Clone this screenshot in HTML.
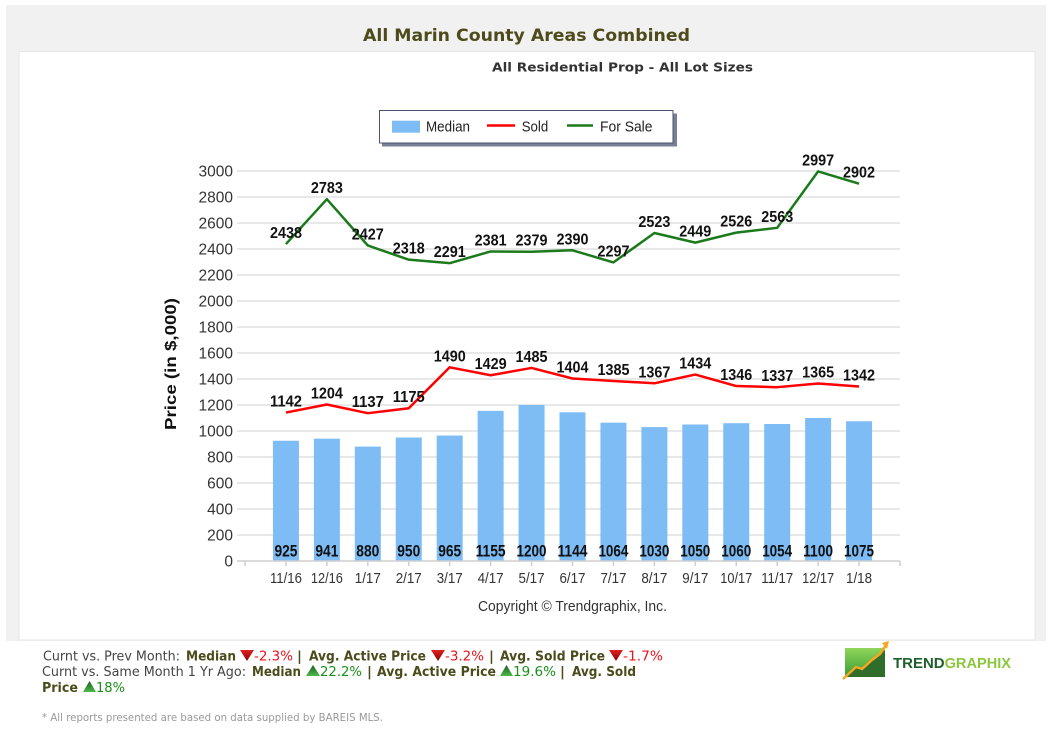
<!DOCTYPE html>
<html>
<head>
<meta charset="utf-8">
<style>
html,body{margin:0;padding:0;background:#fff;}
svg{display:block;}
.tk{font-family:"Liberation Sans",Arial,sans-serif;font-size:15.5px;fill:#333;}
.xl{font-family:"Liberation Sans",Arial,sans-serif;font-size:14.5px;fill:#333;}
.lb{font-family:"Liberation Sans",Arial,sans-serif;font-size:16px;font-weight:bold;fill:#111;}
.bl{font-family:"Liberation Sans",Arial,sans-serif;font-size:16.5px;font-weight:bold;fill:#111;}
.lg{font-family:"Liberation Sans",Arial,sans-serif;font-size:15px;fill:#222;}
.v{font-family:"DejaVu Sans",Verdana,sans-serif;font-size:13.5px;}
.n{fill:#444;}
.b{fill:#4b4b1c;font-weight:bold;}
.r{fill:#e8141b;}
.g{fill:#1a8f1a;}
</style>
</head>
<body>
<svg width="1052" height="749" viewBox="0 0 1052 749" xmlns="http://www.w3.org/2000/svg">
<defs>
<linearGradient id="lg1" x1="0" y1="0" x2="0" y2="1">
<stop offset="0" stop-color="#8fd65a"/>
<stop offset="1" stop-color="#3a9a34"/>
</linearGradient>
<linearGradient id="dn" x1="0" y1="0" x2="0" y2="1">
<stop offset="0" stop-color="#e02020"/>
<stop offset="1" stop-color="#8a0000"/>
</linearGradient>
<linearGradient id="up" x1="0" y1="0" x2="0" y2="1">
<stop offset="0" stop-color="#1b5e1b"/>
<stop offset="1" stop-color="#4cb84c"/>
</linearGradient>
</defs>

<!-- background frame -->
<rect x="6" y="5" width="1040" height="636" fill="#f1f1f1"/>
<rect x="19" y="51.5" width="1016" height="588.5" fill="#ffffff" stroke="#e6e6e6" stroke-width="1"/>

<!-- title -->
<text x="363" y="41" font-family="'DejaVu Sans',Verdana,sans-serif" font-size="17" font-weight="bold" fill="#4d4b1b" textLength="327" lengthAdjust="spacingAndGlyphs">All Marin County Areas Combined</text>
<text x="492" y="71.5" font-family="'DejaVu Sans',Verdana,sans-serif" font-size="12.5" font-weight="bold" fill="#333" textLength="261" lengthAdjust="spacingAndGlyphs">All Residential Prop - All Lot Sizes</text>

<!-- legend -->
<rect x="382" y="113.5" width="295" height="33" fill="#4a5670" opacity="0.75"/>
<rect x="379.5" y="110.5" width="293.5" height="32.5" fill="#fff" stroke="#4a5670" stroke-width="1"/>
<rect x="392" y="120.7" width="28" height="12" fill="#7dbcf5"/>
<text x="426" y="131.7" class="lg" textLength="44" lengthAdjust="spacingAndGlyphs">Median</text>
<line x1="487" y1="125.5" x2="515" y2="125.5" stroke="#ff0000" stroke-width="2.5"/>
<text x="521.7" y="131.7" class="lg" textLength="26.5" lengthAdjust="spacingAndGlyphs">Sold</text>
<line x1="567" y1="125.5" x2="593" y2="125.5" stroke="#1b7a1b" stroke-width="2.5"/>
<text x="600" y="131.7" class="lg" textLength="52.5" lengthAdjust="spacingAndGlyphs">For Sale</text>

<!-- gridlines -->
<g stroke="#d9d9d9" stroke-width="1.3">
<line x1="237" y1="535" x2="900" y2="535"/>
<line x1="237" y1="509" x2="900" y2="509"/>
<line x1="237" y1="483" x2="900" y2="483"/>
<line x1="237" y1="457" x2="900" y2="457"/>
<line x1="237" y1="431" x2="900" y2="431"/>
<line x1="237" y1="405" x2="900" y2="405"/>
<line x1="237" y1="379" x2="900" y2="379"/>
<line x1="237" y1="353" x2="900" y2="353"/>
<line x1="237" y1="327" x2="900" y2="327"/>
<line x1="237" y1="301" x2="900" y2="301"/>
<line x1="237" y1="275" x2="900" y2="275"/>
<line x1="237" y1="249" x2="900" y2="249"/>
<line x1="237" y1="223" x2="900" y2="223"/>
<line x1="237" y1="197" x2="900" y2="197"/>
<line x1="237" y1="171" x2="900" y2="171"/>
</g>

<!-- y tick labels -->
<g class="tk" text-anchor="end">
<text x="233" y="566.5">0</text>
<text x="233" y="540.5">200</text>
<text x="233" y="514.5">400</text>
<text x="233" y="488.5">600</text>
<text x="233" y="462.5">800</text>
<text x="233" y="436.5">1000</text>
<text x="233" y="410.5">1200</text>
<text x="233" y="384.5">1400</text>
<text x="233" y="358.5">1600</text>
<text x="233" y="332.5">1800</text>
<text x="233" y="306.5">2000</text>
<text x="233" y="280.5">2200</text>
<text x="233" y="254.5">2400</text>
<text x="233" y="228.5">2600</text>
<text x="233" y="202.5">2800</text>
<text x="233" y="176.5">3000</text>
</g>

<!-- axis title -->
<text transform="translate(176,364) rotate(-90)" text-anchor="middle" font-family="'Liberation Sans',Arial,sans-serif" font-size="16" font-weight="bold" fill="#111" textLength="132" lengthAdjust="spacingAndGlyphs">Price (in $,000)</text>

<!-- bars -->
<g fill="#7dbcf5">
<rect x="272.94" y="440.75" width="26" height="120.25"/>
<rect x="313.88" y="438.67" width="26" height="122.33"/>
<rect x="354.81" y="446.6" width="26" height="114.4"/>
<rect x="395.75" y="437.5" width="26" height="123.5"/>
<rect x="436.69" y="435.55" width="26" height="125.45"/>
<rect x="477.63" y="410.85" width="26" height="150.15"/>
<rect x="518.56" y="405" width="26" height="156"/>
<rect x="559.5" y="412.28" width="26" height="148.72"/>
<rect x="600.44" y="422.68" width="26" height="138.32"/>
<rect x="641.38" y="427.1" width="26" height="133.9"/>
<rect x="682.31" y="424.5" width="26" height="136.5"/>
<rect x="723.25" y="423.2" width="26" height="137.8"/>
<rect x="764.19" y="423.98" width="26" height="137.02"/>
<rect x="805.13" y="418" width="26" height="143"/>
<rect x="846.06" y="421.25" width="26" height="139.75"/>
</g>

<!-- x axis -->
<g stroke="#cfcfcf" stroke-width="1.5">
<line x1="237" y1="561" x2="900" y2="561"/>
<line x1="245" y1="561" x2="245" y2="566"/>
<line x1="285.94" y1="561" x2="285.94" y2="566"/>
<line x1="326.88" y1="561" x2="326.88" y2="566"/>
<line x1="367.81" y1="561" x2="367.81" y2="566"/>
<line x1="408.75" y1="561" x2="408.75" y2="566"/>
<line x1="449.69" y1="561" x2="449.69" y2="566"/>
<line x1="490.63" y1="561" x2="490.63" y2="566"/>
<line x1="531.56" y1="561" x2="531.56" y2="566"/>
<line x1="572.5" y1="561" x2="572.5" y2="566"/>
<line x1="613.44" y1="561" x2="613.44" y2="566"/>
<line x1="654.38" y1="561" x2="654.38" y2="566"/>
<line x1="695.31" y1="561" x2="695.31" y2="566"/>
<line x1="736.25" y1="561" x2="736.25" y2="566"/>
<line x1="777.19" y1="561" x2="777.19" y2="566"/>
<line x1="818.13" y1="561" x2="818.13" y2="566"/>
<line x1="859.06" y1="561" x2="859.06" y2="566"/>
<line x1="900" y1="561" x2="900" y2="566"/>
</g>

<!-- bar labels -->
<g class="bl" text-anchor="middle">
<text x="285.94" y="556.5" textLength="23" lengthAdjust="spacingAndGlyphs">925</text>
<text x="326.88" y="556.5" textLength="23" lengthAdjust="spacingAndGlyphs">941</text>
<text x="367.81" y="556.5" textLength="23" lengthAdjust="spacingAndGlyphs">880</text>
<text x="408.75" y="556.5" textLength="23" lengthAdjust="spacingAndGlyphs">950</text>
<text x="449.69" y="556.5" textLength="23" lengthAdjust="spacingAndGlyphs">965</text>
<text x="490.63" y="556.5" textLength="30" lengthAdjust="spacingAndGlyphs">1155</text>
<text x="531.56" y="556.5" textLength="30" lengthAdjust="spacingAndGlyphs">1200</text>
<text x="572.5" y="556.5" textLength="30" lengthAdjust="spacingAndGlyphs">1144</text>
<text x="613.44" y="556.5" textLength="30" lengthAdjust="spacingAndGlyphs">1064</text>
<text x="654.38" y="556.5" textLength="30" lengthAdjust="spacingAndGlyphs">1030</text>
<text x="695.31" y="556.5" textLength="30" lengthAdjust="spacingAndGlyphs">1050</text>
<text x="736.25" y="556.5" textLength="30" lengthAdjust="spacingAndGlyphs">1060</text>
<text x="777.19" y="556.5" textLength="30" lengthAdjust="spacingAndGlyphs">1054</text>
<text x="818.13" y="556.5" textLength="30" lengthAdjust="spacingAndGlyphs">1100</text>
<text x="859.06" y="556.5" textLength="30" lengthAdjust="spacingAndGlyphs">1075</text>
</g>

<!-- lines -->
<polyline fill="none" stroke="#ff0000" stroke-width="2.5" stroke-linejoin="round" points="285.94,412.54 326.88,404.48 367.81,413.19 408.75,408.25 449.69,367.3 490.63,375.23 531.56,367.95 572.5,378.48 613.44,380.95 654.38,383.29 695.31,374.58 736.25,386.02 777.19,387.19 818.13,383.55 859.06,386.54"/>
<polyline fill="none" stroke="#1b7a1b" stroke-width="2.5" stroke-linejoin="round" points="285.94,244.06 326.88,199.21 367.81,245.49 408.75,259.66 449.69,263.17 490.63,251.47 531.56,251.73 572.5,250.3 613.44,262.39 654.38,233.01 695.31,242.63 736.25,232.62 777.19,227.81 818.13,171.39 859.06,183.74"/>

<!-- sold labels -->
<g class="lb" text-anchor="middle">
<text x="285.94" y="406.5" textLength="32" lengthAdjust="spacingAndGlyphs">1142</text>
<text x="326.88" y="398.5" textLength="32" lengthAdjust="spacingAndGlyphs">1204</text>
<text x="367.81" y="407.2" textLength="32" lengthAdjust="spacingAndGlyphs">1137</text>
<text x="408.75" y="402.2" textLength="32" lengthAdjust="spacingAndGlyphs">1175</text>
<text x="449.69" y="361.3" textLength="32" lengthAdjust="spacingAndGlyphs">1490</text>
<text x="490.63" y="369.2" textLength="32" lengthAdjust="spacingAndGlyphs">1429</text>
<text x="531.56" y="362" textLength="32" lengthAdjust="spacingAndGlyphs">1485</text>
<text x="572.5" y="372.5" textLength="32" lengthAdjust="spacingAndGlyphs">1404</text>
<text x="613.44" y="375" textLength="32" lengthAdjust="spacingAndGlyphs">1385</text>
<text x="654.38" y="377.3" textLength="32" lengthAdjust="spacingAndGlyphs">1367</text>
<text x="695.31" y="368.6" textLength="32" lengthAdjust="spacingAndGlyphs">1434</text>
<text x="736.25" y="380" textLength="32" lengthAdjust="spacingAndGlyphs">1346</text>
<text x="777.19" y="381.2" textLength="32" lengthAdjust="spacingAndGlyphs">1337</text>
<text x="818.13" y="377.5" textLength="32" lengthAdjust="spacingAndGlyphs">1365</text>
<text x="859.06" y="380.5" textLength="32" lengthAdjust="spacingAndGlyphs">1342</text>
</g>

<!-- for sale labels -->
<g class="lb" text-anchor="middle">
<text x="285.94" y="238" textLength="32" lengthAdjust="spacingAndGlyphs">2438</text>
<text x="326.88" y="193.2" textLength="32" lengthAdjust="spacingAndGlyphs">2783</text>
<text x="367.81" y="239.5" textLength="32" lengthAdjust="spacingAndGlyphs">2427</text>
<text x="408.75" y="253.7" textLength="32" lengthAdjust="spacingAndGlyphs">2318</text>
<text x="449.69" y="257.2" textLength="32" lengthAdjust="spacingAndGlyphs">2291</text>
<text x="490.63" y="245.5" textLength="32" lengthAdjust="spacingAndGlyphs">2381</text>
<text x="531.56" y="245.7" textLength="32" lengthAdjust="spacingAndGlyphs">2379</text>
<text x="572.5" y="244.3" textLength="32" lengthAdjust="spacingAndGlyphs">2390</text>
<text x="613.44" y="256.4" textLength="32" lengthAdjust="spacingAndGlyphs">2297</text>
<text x="654.38" y="227" textLength="32" lengthAdjust="spacingAndGlyphs">2523</text>
<text x="695.31" y="236.6" textLength="32" lengthAdjust="spacingAndGlyphs">2449</text>
<text x="736.25" y="226.6" textLength="32" lengthAdjust="spacingAndGlyphs">2526</text>
<text x="777.19" y="221.8" textLength="32" lengthAdjust="spacingAndGlyphs">2563</text>
<text x="818.13" y="165.4" textLength="32" lengthAdjust="spacingAndGlyphs">2997</text>
<text x="859.06" y="177.7" textLength="32" lengthAdjust="spacingAndGlyphs">2902</text>
</g>

<!-- x labels -->
<g class="xl" text-anchor="middle">
<text x="285.94" y="583" textLength="32" lengthAdjust="spacingAndGlyphs">11/16</text>
<text x="326.88" y="583" textLength="32" lengthAdjust="spacingAndGlyphs">12/16</text>
<text x="367.81" y="583" textLength="26" lengthAdjust="spacingAndGlyphs">1/17</text>
<text x="408.75" y="583" textLength="26" lengthAdjust="spacingAndGlyphs">2/17</text>
<text x="449.69" y="583" textLength="26" lengthAdjust="spacingAndGlyphs">3/17</text>
<text x="490.63" y="583" textLength="26" lengthAdjust="spacingAndGlyphs">4/17</text>
<text x="531.56" y="583" textLength="26" lengthAdjust="spacingAndGlyphs">5/17</text>
<text x="572.5" y="583" textLength="26" lengthAdjust="spacingAndGlyphs">6/17</text>
<text x="613.44" y="583" textLength="26" lengthAdjust="spacingAndGlyphs">7/17</text>
<text x="654.38" y="583" textLength="26" lengthAdjust="spacingAndGlyphs">8/17</text>
<text x="695.31" y="583" textLength="26" lengthAdjust="spacingAndGlyphs">9/17</text>
<text x="736.25" y="583" textLength="32" lengthAdjust="spacingAndGlyphs">10/17</text>
<text x="777.19" y="583" textLength="32" lengthAdjust="spacingAndGlyphs">11/17</text>
<text x="818.13" y="583" textLength="32" lengthAdjust="spacingAndGlyphs">12/17</text>
<text x="859.06" y="583" textLength="26" lengthAdjust="spacingAndGlyphs">1/18</text>
</g>

<!-- copyright -->
<text x="478" y="611" font-family="'Liberation Sans',Arial,sans-serif" font-size="14.5" fill="#333" textLength="189" lengthAdjust="spacingAndGlyphs">Copyright © Trendgraphix, Inc.</text>

<!-- bottom stats line 1 -->
<text x="43" y="660.5" class="v n" textLength="137" lengthAdjust="spacingAndGlyphs">Curnt vs. Prev Month:</text>
<text x="186" y="660.5" class="v b" textLength="50" lengthAdjust="spacingAndGlyphs">Median</text>
<polygon points="240,650 254,650 247,661" fill="url(#dn)"/>
<text x="254" y="660.5" class="v r" textLength="39" lengthAdjust="spacingAndGlyphs">-2.3%</text>
<text x="297" y="660.5" class="v b">|</text>
<text x="309" y="660.5" class="v b" textLength="117" lengthAdjust="spacingAndGlyphs">Avg. Active Price</text>
<polygon points="431,650 445,650 438,661" fill="url(#dn)"/>
<text x="445" y="660.5" class="v r" textLength="39" lengthAdjust="spacingAndGlyphs">-3.2%</text>
<text x="489" y="660.5" class="v b">|</text>
<text x="500" y="660.5" class="v b" textLength="105" lengthAdjust="spacingAndGlyphs">Avg. Sold Price</text>
<polygon points="609,650 623,650 616,661" fill="url(#dn)"/>
<text x="623" y="660.5" class="v r" textLength="40" lengthAdjust="spacingAndGlyphs">-1.7%</text>

<!-- line 2 -->
<text x="42" y="676" class="v n" textLength="204" lengthAdjust="spacingAndGlyphs">Curnt vs. Same Month 1 Yr Ago:</text>
<text x="252" y="676" class="v b" textLength="49" lengthAdjust="spacingAndGlyphs">Median</text>
<polygon points="306,676 320,676 313,665" fill="url(#up)"/>
<text x="320" y="676" class="v g" textLength="42" lengthAdjust="spacingAndGlyphs">22.2%</text>
<text x="367" y="676" class="v b">|</text>
<text x="377" y="676" class="v b" textLength="119" lengthAdjust="spacingAndGlyphs">Avg. Active Price</text>
<polygon points="500,676 513,676 506.5,665" fill="url(#up)"/>
<text x="513" y="676" class="v g" textLength="43" lengthAdjust="spacingAndGlyphs">19.6%</text>
<text x="560" y="676" class="v b">|</text>
<text x="572" y="676" class="v b" textLength="64" lengthAdjust="spacingAndGlyphs">Avg. Sold</text>

<!-- line 3 -->
<text x="42" y="692" class="v b" textLength="36" lengthAdjust="spacingAndGlyphs">Price</text>
<polygon points="83,692 96,692 89.5,681" fill="url(#up)"/>
<text x="96" y="692" class="v g" textLength="29" lengthAdjust="spacingAndGlyphs">18%</text>

<!-- footnote -->
<text x="42" y="721" font-family="'DejaVu Sans',Verdana,sans-serif" font-size="10.5" fill="#999" textLength="341" lengthAdjust="spacingAndGlyphs">* All reports presented are based on data supplied by BAREIS MLS.</text>

<!-- logo -->
<rect x="845" y="648" width="40" height="29" fill="url(#lg1)"/>
<polygon points="845,677 856,666 862,668 872,659 878,656 885,650 885,677" fill="#2f6e2a"/>
<polyline points="843,679 856,667 862,669 872,660 880,654 886,645" fill="none" stroke="#f5a623" stroke-width="2.5"/>
<polygon points="882,643 889,641 887,649" fill="#f5a623"/>
<text x="893" y="668" font-family="'Liberation Sans',Arial,sans-serif" font-size="15" font-weight="bold" fill="#1f5f2c" textLength="51.6" lengthAdjust="spacingAndGlyphs">TREND</text>
<text x="944.6" y="668" font-family="'Liberation Sans',Arial,sans-serif" font-size="15" font-weight="bold" fill="#8cc63e" textLength="66.4" lengthAdjust="spacingAndGlyphs">GRAPHIX</text>
</svg>
</body>
</html>
